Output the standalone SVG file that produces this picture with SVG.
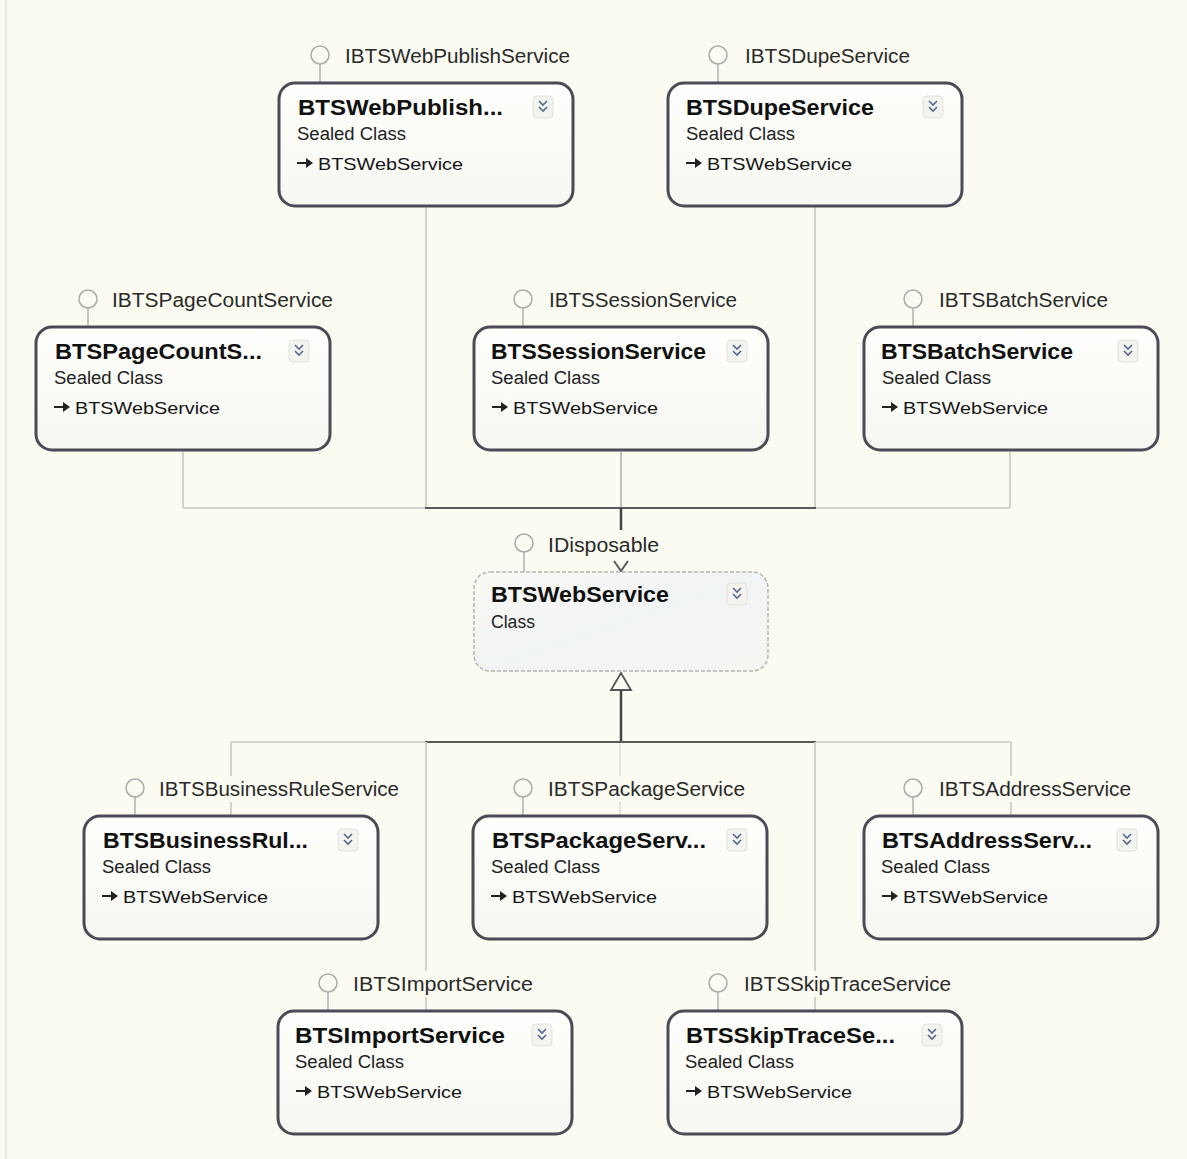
<svg xmlns="http://www.w3.org/2000/svg" xmlns:xlink="http://www.w3.org/1999/xlink" width="1187" height="1159" viewBox="0 0 1187 1159">
<defs>
  <style>
    .bg{fill:#fbfbf2}
    .box{fill:url(#boxg);stroke:#4b4b58;stroke-width:3}
    .box2{fill:url(#boxb);stroke:#b4b4b4;stroke-width:1.5;stroke-dasharray:4 2}
    .ttl{font-family:"Liberation Sans",Arial,sans-serif;font-weight:bold;font-size:22px;fill:#111}
    .sub{font-family:"Liberation Sans",Arial,sans-serif;font-size:18px;fill:#222}
    .base{font-family:"Liberation Sans",Arial,sans-serif;font-size:17px;fill:#161616}
    .lbl{font-family:"Liberation Sans",Arial,sans-serif;font-size:20px;fill:#2a2a2a}
    .lol{fill:#fbfbf2;stroke:#aaaaaa;stroke-width:1.5}
    .stick{stroke:#b0b0b0;stroke-width:1.5}
    .lblbg{fill:#fbfbf2}
    .cl{stroke:#d2d2ca;stroke-width:2;fill:none}
    .cm{stroke:#c0c0b8;stroke-width:2;fill:none}
    .cf{stroke:#e4e4dc;stroke-width:2;fill:none}
    .cd{stroke:#5a5a5a;stroke-width:2;fill:none}
    .ck{stroke:#444;stroke-width:2.5;fill:none}
  </style>
  <linearGradient id="boxg" x1="0" y1="0" x2="0" y2="1">
    <stop offset="0" stop-color="#fefefc"/>
    <stop offset="1" stop-color="#f7f7f2"/>
  </linearGradient>
  <linearGradient id="boxb" x1="0" y1="0" x2="1" y2="1">
    <stop offset="0" stop-color="#f9f9f5"/>
    <stop offset="0.5" stop-color="#f1f4f4"/>
    <stop offset="1" stop-color="#f6f6f2"/>
  </linearGradient>
  <g id="chev">
    <rect x="-10" y="-11" width="20" height="22" rx="4" fill="#f3f3ef" stroke="#e2e2dc" stroke-width="1"/>
    <polyline points="-4,-6 0,-2 4,-6" fill="none" stroke="#56698f" stroke-width="1.6"/>
    <polyline points="-4,0 0,4 4,0" fill="none" stroke="#56698f" stroke-width="1.6"/>
  </g>
  <g id="inh">
    <line x1="18" y1="80" x2="28" y2="80" stroke="#222" stroke-width="2"/>
    <polygon points="27,75 34,80 27,85" fill="#222"/>
  </g>
</defs>

<rect class="bg" x="0" y="0" width="1187" height="1159"/>
<line x1="6" y1="0" x2="6" y2="1159" stroke="#e9e9e0" stroke-width="2"/>

<g id="connectors">
  <!-- upper -->
  <line class="cl" x1="426" y1="206" x2="426" y2="508"/>
  <line class="cl" x1="815" y1="206" x2="815" y2="508"/>
  <line class="cl" x1="183" y1="452" x2="183" y2="508"/>
  <line class="cm" x1="621" y1="452" x2="621" y2="508"/>
  <line class="cl" x1="1010" y1="452" x2="1010" y2="508"/>
  <line class="cl" x1="183" y1="508" x2="426" y2="508"/>
  <line class="cl" x1="815" y1="508" x2="1010" y2="508"/>
  <line class="cd" x1="425" y1="508" x2="816" y2="508"/>
  <line class="ck" x1="621" y1="508" x2="621" y2="530"/>
  <polyline class="cd" points="614,561 621,571 628,561"/>
  <!-- lower -->
  <polygon points="621,673 611,690 631,690" fill="#fbfbf2" stroke="#555" stroke-width="1.8"/>
  <line class="ck" x1="621" y1="690" x2="621" y2="742"/>
  <line class="cl" x1="231" y1="742" x2="426" y2="742"/>
  <line class="cl" x1="815" y1="742" x2="1011" y2="742"/>
  <line class="cd" x1="425" y1="742" x2="816" y2="742"/>
  <line class="cl" x1="231" y1="742" x2="231" y2="816"/>
  <line class="cl" x1="426" y1="742" x2="426" y2="1011"/>
  <line class="cf" x1="620" y1="743" x2="620" y2="816"/>
  <line class="cl" x1="815" y1="742" x2="815" y2="1011"/>
  <line class="cl" x1="1011" y1="742" x2="1011" y2="816"/>
</g>

<g id="n-webpublish" transform="translate(279,83)">
  <line class="stick" x1="41" y1="-19" x2="41" y2="0"/>
  <circle class="lol" cx="41" cy="-28" r="9"/>
  <text class="lbl" x="66" y="-20" textLength="225" lengthAdjust="spacingAndGlyphs">IBTSWebPublishService</text>
  <rect class="box" x="0" y="0" width="294" height="123" rx="16"/>
  <text class="ttl" x="19" y="32" textLength="205" lengthAdjust="spacingAndGlyphs">BTSWebPublish...</text>
  <use xlink:href="#chev" x="264" y="24"/>
  <text class="sub" x="18" y="57" textLength="109" lengthAdjust="spacingAndGlyphs">Sealed Class</text>
  <use xlink:href="#inh"/>
  <text class="base" x="39" y="87" textLength="145" lengthAdjust="spacingAndGlyphs">BTSWebService</text>
</g>

<g id="n-dupe" transform="translate(668,83)">
  <line class="stick" x1="50" y1="-19" x2="50" y2="0"/>
  <circle class="lol" cx="50" cy="-28" r="9"/>
  <text class="lbl" x="77" y="-20" textLength="165" lengthAdjust="spacingAndGlyphs">IBTSDupeService</text>
  <rect class="box" x="0" y="0" width="294" height="123" rx="16"/>
  <text class="ttl" x="18" y="32" textLength="188" lengthAdjust="spacingAndGlyphs">BTSDupeService</text>
  <use xlink:href="#chev" x="265" y="24"/>
  <text class="sub" x="18" y="57" textLength="109" lengthAdjust="spacingAndGlyphs">Sealed Class</text>
  <use xlink:href="#inh"/>
  <text class="base" x="39" y="87" textLength="145" lengthAdjust="spacingAndGlyphs">BTSWebService</text>
</g>

<g id="n-pagecount" transform="translate(36,327)">
  <line class="stick" x1="52" y1="-19" x2="52" y2="0"/>
  <circle class="lol" cx="52" cy="-28" r="9"/>
  <text class="lbl" x="76" y="-20" textLength="221" lengthAdjust="spacingAndGlyphs">IBTSPageCountService</text>
  <rect class="box" x="0" y="0" width="294" height="123" rx="16"/>
  <text class="ttl" x="19" y="32" textLength="207" lengthAdjust="spacingAndGlyphs">BTSPageCountS...</text>
  <use xlink:href="#chev" x="263" y="24"/>
  <text class="sub" x="18" y="57" textLength="109" lengthAdjust="spacingAndGlyphs">Sealed Class</text>
  <use xlink:href="#inh"/>
  <text class="base" x="39" y="87" textLength="145" lengthAdjust="spacingAndGlyphs">BTSWebService</text>
</g>

<g id="n-session" transform="translate(474,327)">
  <line class="stick" x1="49" y1="-19" x2="49" y2="0"/>
  <circle class="lol" cx="49" cy="-28" r="9"/>
  <text class="lbl" x="75" y="-20" textLength="188" lengthAdjust="spacingAndGlyphs">IBTSSessionService</text>
  <rect class="box" x="0" y="0" width="294" height="123" rx="16"/>
  <text class="ttl" x="17" y="32" textLength="215" lengthAdjust="spacingAndGlyphs">BTSSessionService</text>
  <use xlink:href="#chev" x="263" y="24"/>
  <text class="sub" x="17" y="57" textLength="109" lengthAdjust="spacingAndGlyphs">Sealed Class</text>
  <use xlink:href="#inh"/>
  <text class="base" x="39" y="87" textLength="145" lengthAdjust="spacingAndGlyphs">BTSWebService</text>
</g>

<g id="n-batch" transform="translate(864,327)">
  <line class="stick" x1="49" y1="-19" x2="49" y2="0"/>
  <circle class="lol" cx="49" cy="-28" r="9"/>
  <text class="lbl" x="75" y="-20" textLength="169" lengthAdjust="spacingAndGlyphs">IBTSBatchService</text>
  <rect class="box" x="0" y="0" width="294" height="123" rx="16"/>
  <text class="ttl" x="17" y="32" textLength="192" lengthAdjust="spacingAndGlyphs">BTSBatchService</text>
  <use xlink:href="#chev" x="264" y="24"/>
  <text class="sub" x="18" y="57" textLength="109" lengthAdjust="spacingAndGlyphs">Sealed Class</text>
  <use xlink:href="#inh"/>
  <text class="base" x="39" y="87" textLength="145" lengthAdjust="spacingAndGlyphs">BTSWebService</text>
</g>

<g id="n-webservice" transform="translate(474,572)">
  <line class="stick" x1="50" y1="-20" x2="50" y2="0"/>
  <circle class="lol" cx="50" cy="-29" r="9"/>
  <rect class="lblbg" x="72" y="-38" width="116" height="24"/>
  <text class="lbl" x="74" y="-20" textLength="111" lengthAdjust="spacingAndGlyphs">IDisposable</text>
  <rect class="box2" x="0" y="0" width="294" height="99" rx="16"/>
  <text class="ttl" x="17" y="30" textLength="178" lengthAdjust="spacingAndGlyphs">BTSWebService</text>
  <use xlink:href="#chev" x="263" y="22"/>
  <text class="sub" x="17" y="56" textLength="44" lengthAdjust="spacingAndGlyphs">Class</text>
</g>

<g id="n-businessrule" transform="translate(84,816)">
  <line class="stick" x1="51" y1="-19" x2="51" y2="0"/>
  <circle class="lol" cx="51" cy="-28" r="9"/>
  <rect class="lblbg" x="72" y="-40" width="246" height="26"/>
  <text class="lbl" x="75" y="-20" textLength="240" lengthAdjust="spacingAndGlyphs">IBTSBusinessRuleService</text>
  <rect class="box" x="0" y="0" width="294" height="123" rx="16"/>
  <text class="ttl" x="19" y="32" textLength="205" lengthAdjust="spacingAndGlyphs">BTSBusinessRul...</text>
  <use xlink:href="#chev" x="264" y="24"/>
  <text class="sub" x="18" y="57" textLength="109" lengthAdjust="spacingAndGlyphs">Sealed Class</text>
  <use xlink:href="#inh"/>
  <text class="base" x="39" y="87" textLength="145" lengthAdjust="spacingAndGlyphs">BTSWebService</text>
</g>

<g id="n-package" transform="translate(473,816)">
  <line class="stick" x1="50" y1="-19" x2="50" y2="0"/>
  <circle class="lol" cx="50" cy="-28" r="9"/>
  <rect class="lblbg" x="72" y="-40" width="203" height="26"/>
  <text class="lbl" x="75" y="-20" textLength="197" lengthAdjust="spacingAndGlyphs">IBTSPackageService</text>
  <rect class="box" x="0" y="0" width="294" height="123" rx="16"/>
  <text class="ttl" x="19" y="32" textLength="214" lengthAdjust="spacingAndGlyphs">BTSPackageServ...</text>
  <use xlink:href="#chev" x="264" y="24"/>
  <text class="sub" x="18" y="57" textLength="109" lengthAdjust="spacingAndGlyphs">Sealed Class</text>
  <use xlink:href="#inh"/>
  <text class="base" x="39" y="87" textLength="145" lengthAdjust="spacingAndGlyphs">BTSWebService</text>
</g>

<g id="n-address" transform="translate(864,816)">
  <line class="stick" x1="49" y1="-19" x2="49" y2="0"/>
  <circle class="lol" cx="49" cy="-28" r="9"/>
  <rect class="lblbg" x="72" y="-40" width="198" height="26"/>
  <text class="lbl" x="75" y="-20" textLength="192" lengthAdjust="spacingAndGlyphs">IBTSAddressService</text>
  <rect class="box" x="0" y="0" width="294" height="123" rx="16"/>
  <text class="ttl" x="18" y="32" textLength="210" lengthAdjust="spacingAndGlyphs">BTSAddressServ...</text>
  <use xlink:href="#chev" x="263" y="24"/>
  <text class="sub" x="17" y="57" textLength="109" lengthAdjust="spacingAndGlyphs">Sealed Class</text>
  <use xlink:href="#inh"/>
  <text class="base" x="39" y="87" textLength="145" lengthAdjust="spacingAndGlyphs">BTSWebService</text>
</g>

<g id="n-import" transform="translate(278,1011)">
  <line class="stick" x1="50" y1="-19" x2="50" y2="0"/>
  <circle class="lol" cx="50" cy="-28" r="9"/>
  <rect class="lblbg" x="72" y="-40" width="186" height="26"/>
  <text class="lbl" x="75" y="-20" textLength="180" lengthAdjust="spacingAndGlyphs">IBTSImportService</text>
  <rect class="box" x="0" y="0" width="294" height="123" rx="16"/>
  <text class="ttl" x="17" y="32" textLength="210" lengthAdjust="spacingAndGlyphs">BTSImportService</text>
  <use xlink:href="#chev" x="264" y="24"/>
  <text class="sub" x="17" y="57" textLength="109" lengthAdjust="spacingAndGlyphs">Sealed Class</text>
  <use xlink:href="#inh"/>
  <text class="base" x="39" y="87" textLength="145" lengthAdjust="spacingAndGlyphs">BTSWebService</text>
</g>

<g id="n-skiptrace" transform="translate(668,1011)">
  <line class="stick" x1="50" y1="-19" x2="50" y2="0"/>
  <circle class="lol" cx="50" cy="-28" r="9"/>
  <rect class="lblbg" x="73" y="-40" width="213" height="26"/>
  <text class="lbl" x="76" y="-20" textLength="207" lengthAdjust="spacingAndGlyphs">IBTSSkipTraceService</text>
  <rect class="box" x="0" y="0" width="294" height="123" rx="16"/>
  <text class="ttl" x="18" y="32" textLength="209" lengthAdjust="spacingAndGlyphs">BTSSkipTraceSe...</text>
  <use xlink:href="#chev" x="264" y="24"/>
  <text class="sub" x="17" y="57" textLength="109" lengthAdjust="spacingAndGlyphs">Sealed Class</text>
  <use xlink:href="#inh"/>
  <text class="base" x="39" y="87" textLength="145" lengthAdjust="spacingAndGlyphs">BTSWebService</text>
</g>
</svg>
